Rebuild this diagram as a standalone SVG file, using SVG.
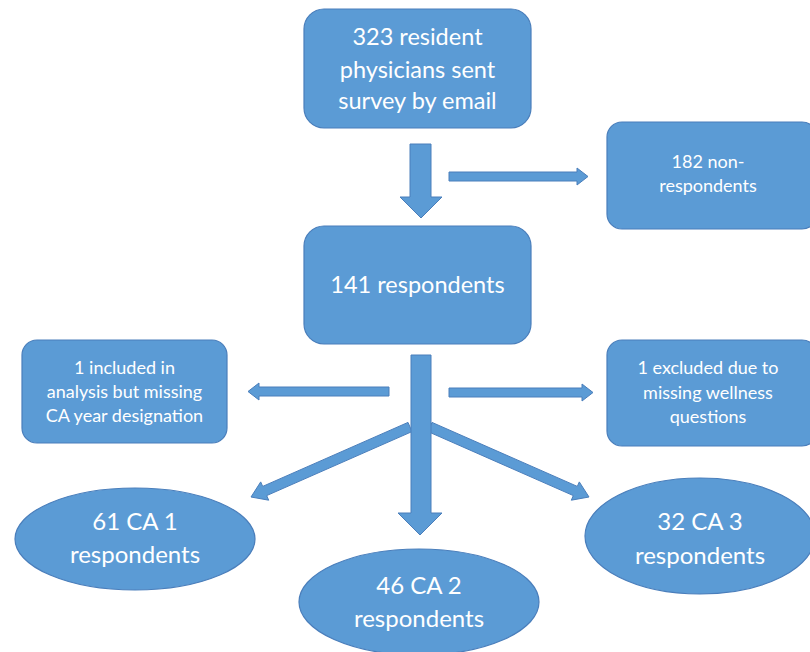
<svg xmlns="http://www.w3.org/2000/svg" width="810" height="652" viewBox="0 0 810 652">
<style>
.n{fill:#5B9BD5;stroke:#4A7EBB;stroke-width:1.2}
.a{fill:#5B9BD5;stroke:#4A7EBB;stroke-width:1}
text{font-family:Lato,"Open Sans","Liberation Sans",sans-serif;fill:#fff;text-anchor:middle}
.b{font-size:23.5px}
.s{font-size:18px}
.e{font-size:24px}
</style>
<rect width="810" height="652" fill="#fff"/>
<g id="connectors">
<polygon class="a" points="410,144 431,144 431,197 442,197 421,218 400,197 410,197"/>
<polygon class="a" points="449,172 577,172 577,168 588,176.5 577,185 577,181 449,181"/>
<polygon class="a" points="432,422.4 577.3,486.4 579.3,481.9 589,497 571.3,500.2 573.3,495.6 428,431.6"/>
<polygon class="a" points="408,422.4 262.7,486.4 260.7,481.9 251,497 268.7,500.2 266.7,495.6 412,431.6"/>
<polygon class="a" points="411,355 431,355 431,513 442,513 420,535 398,513 411,513"/>
<polygon class="a" points="389,387 259,387 259,383 248,391.5 259,400 259,396 389,396"/>
<polygon class="a" points="449,388 582,388 582,384 593,392.5 582,401 582,397 449,397"/>
</g>
<g id="n-sent">
<rect class="n" x="304" y="9" width="227" height="119" rx="20"/>
<text class="b" x="417.5" y="45">323 resident</text>
<text class="b" x="417.5" y="78">physicians sent</text>
<text class="b" x="417.5" y="109">survey by email</text>
</g>
<g id="n-non">
<rect class="n" x="607" y="122" width="210" height="107" rx="15"/>
<text class="s" x="708" y="168">182 non-</text>
<text class="s" x="708" y="192">respondents</text>
</g>
<g id="n-resp">
<rect class="n" x="304" y="226" width="227" height="118" rx="20"/>
<text class="b" x="417.5" y="293">141 respondents</text>
</g>
<g id="n-incl">
<rect class="n" x="22" y="340" width="205" height="103" rx="15"/>
<text class="s" x="124.5" y="374">1 included in</text>
<text class="s" x="124.5" y="398">analysis but missing</text>
<text class="s" x="124.5" y="422">CA year designation</text>
</g>
<g id="n-excl">
<rect class="n" x="607" y="340" width="210" height="106" rx="15"/>
<text class="s" x="708" y="374">1 excluded due to</text>
<text class="s" x="708" y="399">missing wellness</text>
<text class="s" x="708" y="423">questions</text>
</g>
<g id="n-ca1">
<ellipse class="n" cx="135" cy="539" rx="120" ry="51"/>
<text class="e" x="135" y="530">61 CA 1</text>
<text class="e" x="135" y="563">respondents</text>
</g>
<g id="n-ca2">
<ellipse class="n" cx="419" cy="602" rx="120" ry="53"/>
<text class="e" x="419" y="594">46 CA 2</text>
<text class="e" x="419" y="627">respondents</text>
</g>
<g id="n-ca3">
<ellipse class="n" cx="700" cy="536" rx="115" ry="58"/>
<text class="e" x="700" y="530">32 CA 3</text>
<text class="e" x="700" y="564">respondents</text>
</g>
</svg>
